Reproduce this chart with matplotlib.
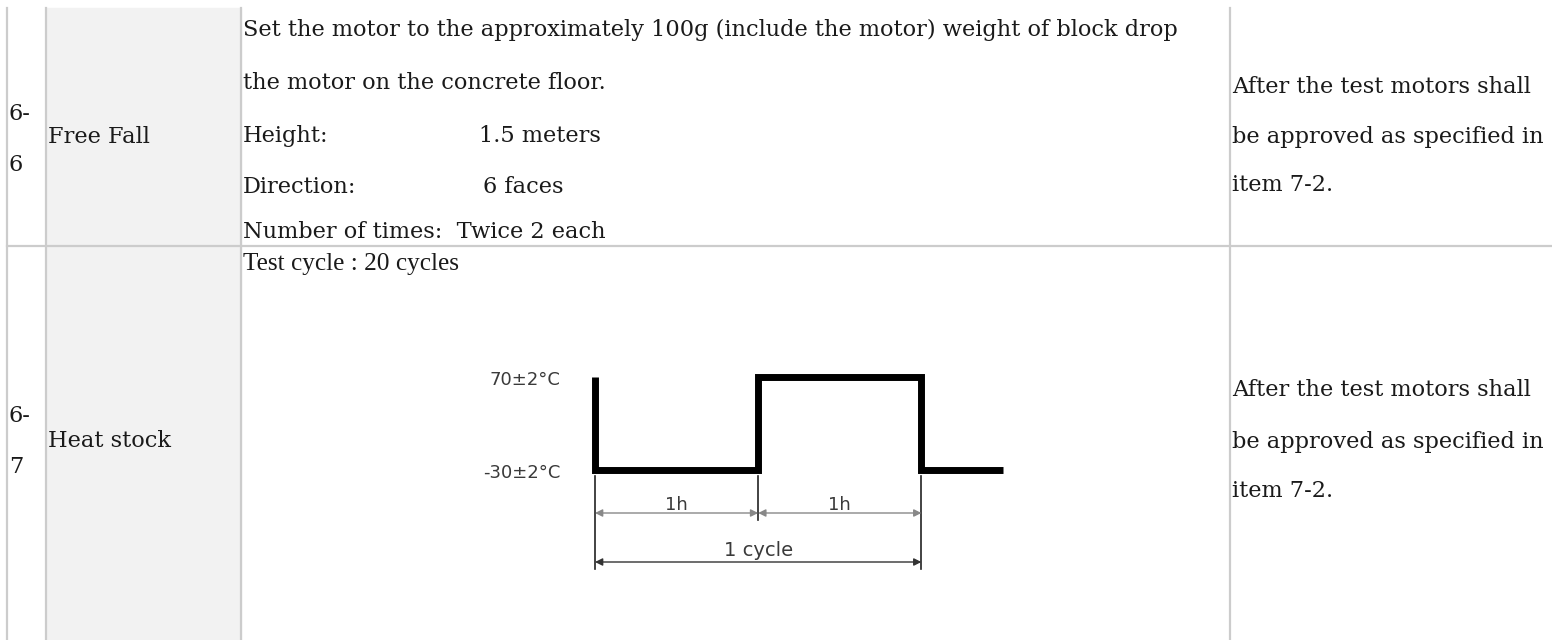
import matplotlib
matplotlib.use("Agg")
import matplotlib.pyplot as plt

# ---------------- data ----------------
row_ids = [["6-", "6"], ["6-", "7"]]
row_names = ["Free Fall", "Heat stock"]
row1_lines = [
    "Set the motor to the approximately 100g (include the motor) weight of block drop",
    "the motor on the concrete floor.",
]
row1_params = ["Height:", "Direction:"]
row1_values = ["1.5 meters", "6 faces"]
row1_last = "Number of times:  Twice 2 each"
row2_title = "Test cycle : 20 cycles"
result_lines = ["After the test motors shall", "be approved as specified in", "item 7-2."]

# heat shock waveform (hours, °C)
cycle_times = [0, 0, 1, 2, 2.5]
cycle_temps = [70, -30, 70, -30, -30]
level_labels = ["70±2°C", "-30±2°C"]
level_values = [70, -30]
dim_labels = ["1h", "1h", "1 cycle"]
dim_spans = [(0, 1), (1, 2), (0, 2)]

# ---------------- layout ----------------
W, H = 1552, 640
fig = plt.figure(figsize=(W / 100, H / 100), dpi=100)
ax = fig.add_axes([0, 0, 1, 1])
ax.set_xlim(0, W)
ax.set_ylim(H, 0)
ax.axis("off")
renderer = fig.canvas.get_renderer()

grid = "#cccccc"
txt = "#1a1a1a"
serif = "DejaVu Serif"

# fit main font so the first line spans the measured width
probe = ax.text(243, 36, row1_lines[0], fontsize=10, family=serif)
w10 = probe.get_window_extent(renderer).width
probe.remove()
fs = 10 * 940 / w10

def T(x, y, s, **kw):
    kw.setdefault("fontsize", fs)
    kw.setdefault("family", serif)
    kw.setdefault("color", txt)
    kw.setdefault("va", "baseline")
    return ax.text(x, y, s, **kw)

x_l, x1, x2, x3 = 7, 46, 241, 1230
y_top, y_mid = 8, 246

ax.add_patch(plt.Rectangle((x1, y_top), x2 - x1, H - y_top, color="#f2f2f2", zorder=0))
for x in (x_l, x1, x2, x3):
    ax.plot([x, x], [y_top, H], color=grid, lw=1.6, zorder=1)
ax.plot([x_l, W], [y_mid, y_mid], color=grid, lw=1.6, zorder=1)

# row 1
T(9, 120, row_ids[0][0])
T(9, 171, row_ids[0][1])
T(48, 143, row_names[0])
T(243, 36, row1_lines[0])
T(243, 89, row1_lines[1])
T(243, 238, row1_last)
head = T(243, 238, "Number of times:  ", alpha=0)
x_twice = 243 + head.get_window_extent(renderer).width
head.remove()
for yy, p, v, dx in zip([142, 193], row1_params, row1_values, [22, 26]):
    T(243, yy, p)
    T(x_twice + dx, yy, v)
for yy, line in zip([93, 143, 191], result_lines):
    T(1232, yy, line)

# row 2
T(9, 422, row_ids[1][0])
T(9, 473, row_ids[1][1])
T(48, 447, row_names[1])
T(243, 270, row2_title, fontsize=fs * 1.12, family="Liberation Serif")
for yy, line in zip([396, 448, 497], result_lines):
    T(1232, yy, line)

# ---------------- waveform diagram ----------------
px_left, px_right = 595, 1003           # x pixels of t=0 and t=2.5
py_hi, py_lo = 377, 470                 # y pixels of 70 and -30
py_top, py_bot = 340, 600               # inset extent
t0, t1 = 0.0, 2.5
k = (level_values[0] - level_values[1]) / (py_lo - py_hi)   # degrees per pixel
ylim_top = level_values[0] + (py_hi - py_top) * k
ylim_bot = level_values[1] - (py_bot - py_lo) * k
def py2t(p):
    return level_values[1] - (p - py_lo) * k

dax = fig.add_axes([px_left / W, 1 - py_bot / H, (px_right - px_left) / W, (py_bot - py_top) / H])
dax.set_xlim(t0, t1)
dax.set_ylim(ylim_bot, ylim_top)
dax.axis("off")
dax.patch.set_alpha(0)
dax.plot(cycle_times, cycle_temps, drawstyle="steps-post", color="black", lw=5,
         solid_joinstyle="miter", solid_capstyle="butt", clip_on=False)

gray = "#3a3a3a"
# extension lines
for tx, pend in [(0, 569), (1, 520), (2, 569)]:
    dax.plot([tx, tx], [py2t(476), py2t(pend)], color="#222222", lw=1.2, clip_on=False)
# dimension arrows
dim_y = [513, 513, 562]
text_y = [505, 505, 550]
dim_fs = [13, 13, 14]
dim_col = ["#888888", "#888888", "#333333"]
for (a, b), lab, dy, ty, f, c in zip(dim_spans, dim_labels, dim_y, text_y, dim_fs, dim_col):
    dax.annotate("", xy=(b, py2t(dy)), xytext=(a, py2t(dy)),
                 arrowprops=dict(arrowstyle="<|-|>", color=c, lw=1.0,
                                 mutation_scale=11, shrinkA=0, shrinkB=0),
                 annotation_clip=False)
    dax.text((a + b) / 2, py2t(ty), lab, fontsize=f, family="DejaVu Sans",
             color=gray, ha="center", va="center")

# level labels
for lab, val in zip(level_labels, level_values):
    dax.text(-0.21, val - 3, lab, fontsize=13, family="DejaVu Sans",
             color=gray, ha="right", va="center")

fig.savefig("out.png", dpi=100)
